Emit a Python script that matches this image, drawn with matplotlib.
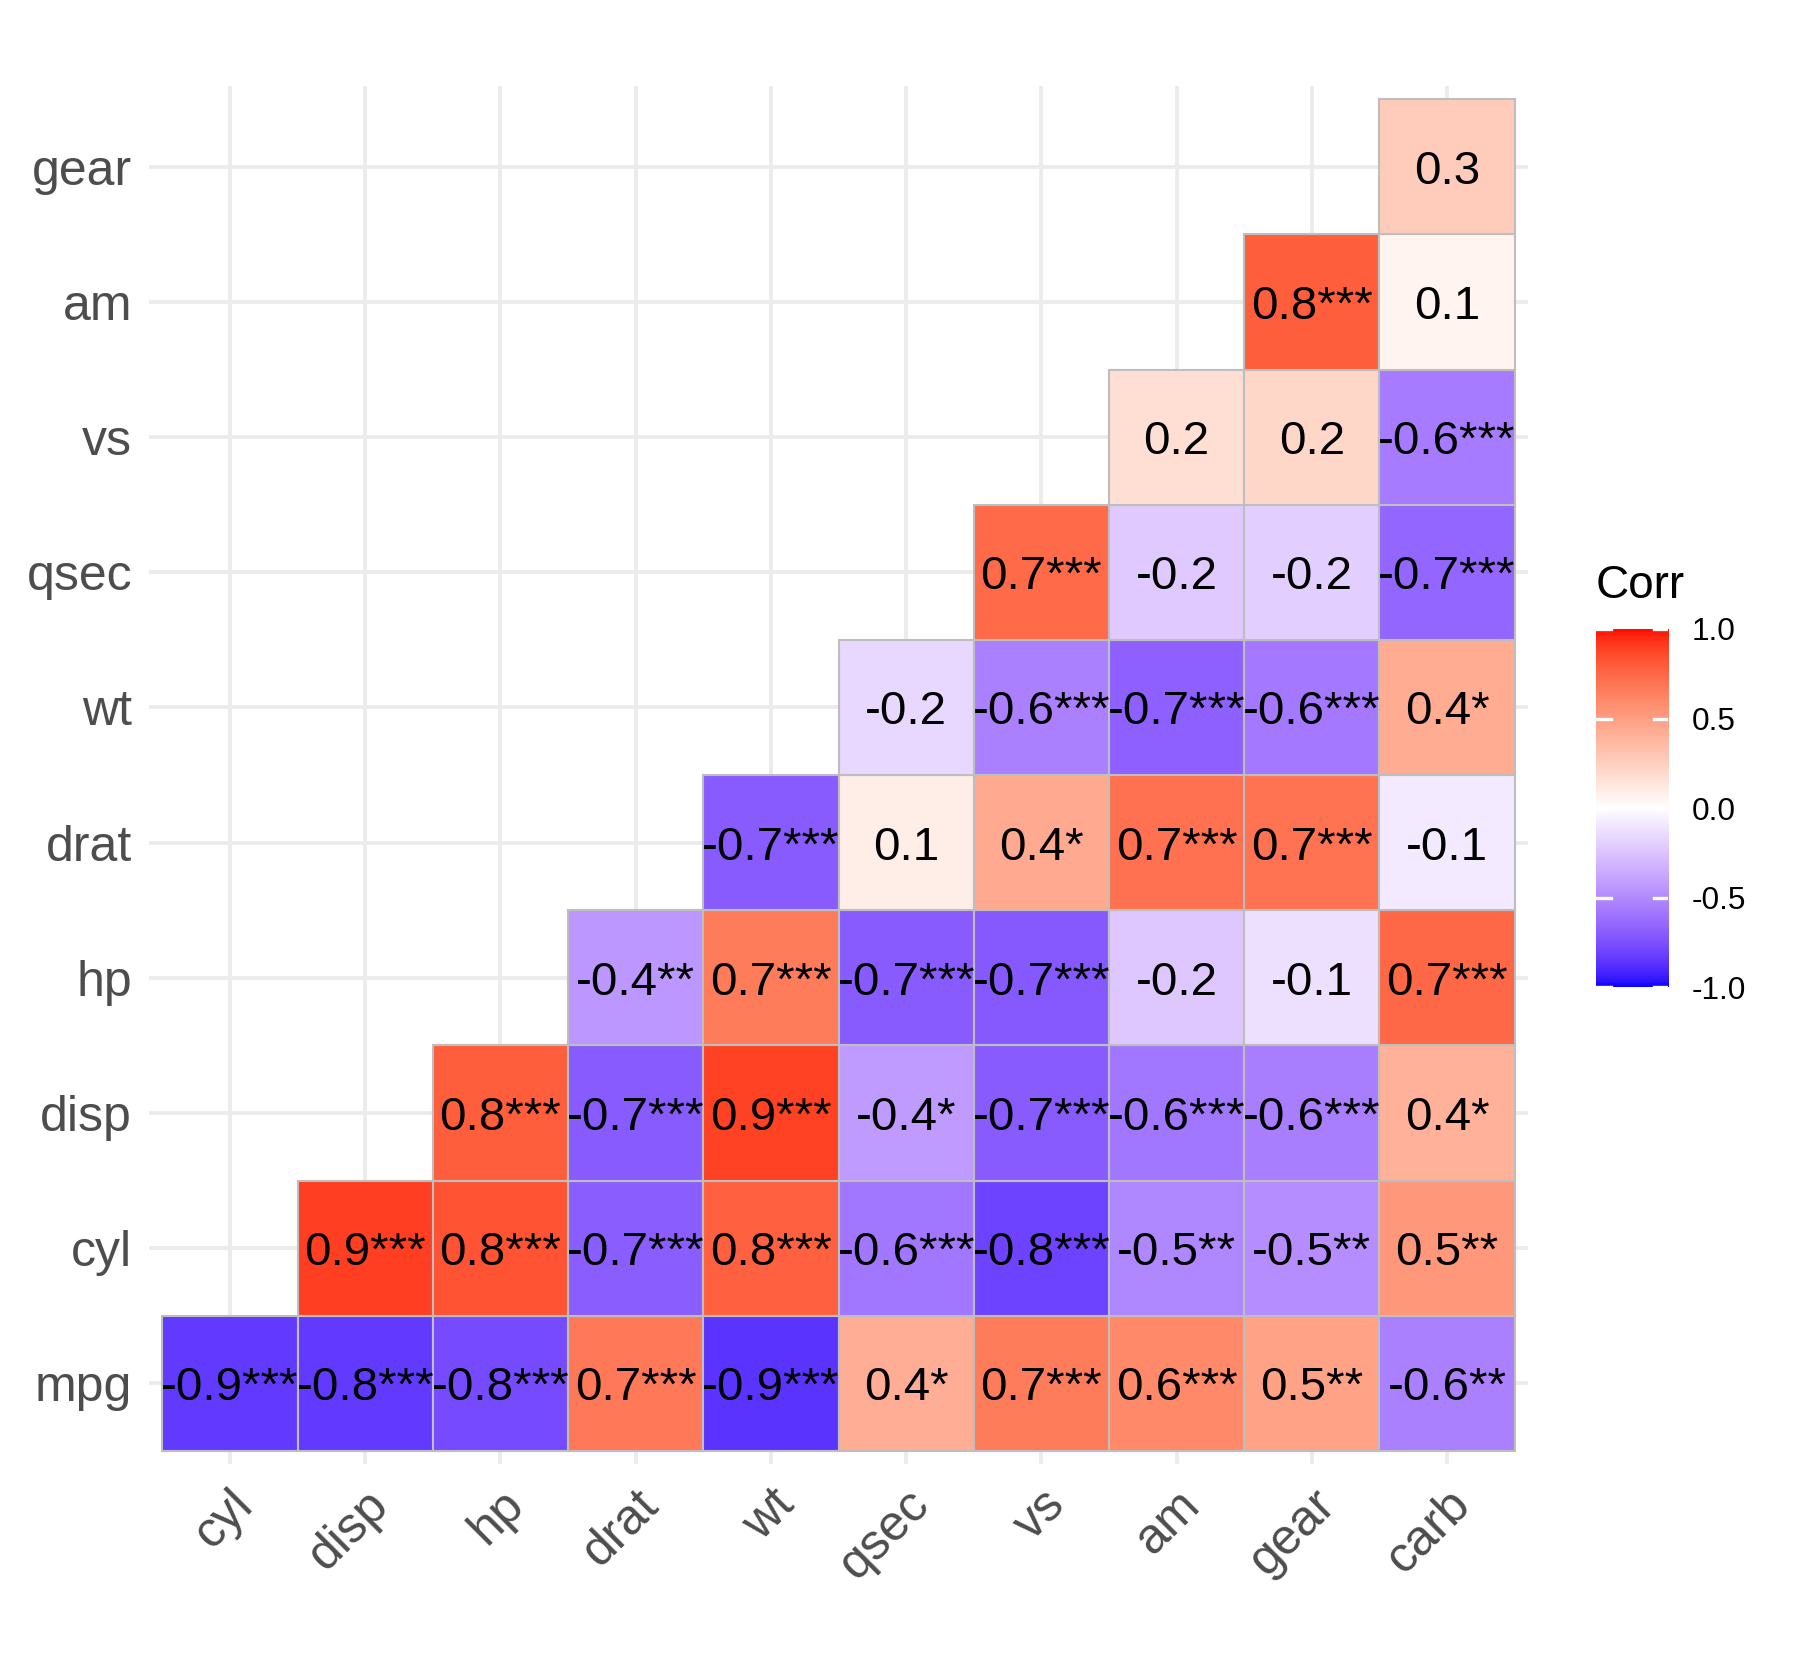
import numpy as np
import matplotlib
matplotlib.use("Agg")
import matplotlib.pyplot as plt
from matplotlib.patches import Rectangle

plt.rcParams['font.family'] = ['Liberation Sans', 'DejaVu Sans']

# mtcars correlations (upper triangle, row var vs later columns)
variables = ["mpg", "cyl", "disp", "hp", "drat", "wt", "qsec", "vs", "am", "gear", "carb"]
x_labels = variables[1:]
y_labels = variables[:-1]

corr_rows = [
    [-0.8522, -0.8476, -0.7762, 0.6812, -0.8677, 0.4187, 0.6640, 0.5998, 0.4803, -0.5509],
    [0.9020, 0.8324, -0.6999, 0.7825, -0.5912, -0.8109, -0.5226, -0.4927, 0.5270],
    [0.7909, -0.7102, 0.8880, -0.4337, -0.7104, -0.5912, -0.5556, 0.3950],
    [-0.4488, 0.6587, -0.7082, -0.7231, -0.2432, -0.1257, 0.7498],
    [-0.7124, 0.0912, 0.4403, 0.7127, 0.6996, -0.0908],
    [-0.1747, -0.5549, -0.6925, -0.5833, 0.4276],
    [0.7445, -0.2299, -0.2127, -0.6562],
    [0.1683, 0.2060, -0.5696],
    [0.7941, 0.0575],
    [0.2741],
]
star_rows = [
    ["***", "***", "***", "***", "***", "*", "***", "***", "**", "**"],
    ["***", "***", "***", "***", "***", "***", "**", "**", "**"],
    ["***", "***", "***", "*", "***", "***", "***", "*"],
    ["**", "***", "***", "***", "", "", "***"],
    ["***", "", "*", "***", "***", ""],
    ["", "***", "***", "***", "*"],
    ["***", "", "", "***"],
    ["", "", "***"],
    ["***", ""],
    [""],
]


# Lab interpolation like ggplot's gradient2
def srgb_to_lab(rgb):
    rgb = np.asarray(rgb, float)
    lin = np.where(rgb <= 0.04045, rgb / 12.92, ((rgb + 0.055) / 1.055) ** 2.4)
    M = np.array([[0.4124, 0.3576, 0.1805],
                  [0.2126, 0.7152, 0.0722],
                  [0.0193, 0.1192, 0.9505]])
    xyz = M @ lin / np.array([0.95047, 1.0, 1.08883])
    f = np.where(xyz > 0.008856, np.cbrt(xyz), 7.787 * xyz + 16 / 116)
    return np.array([116 * f[1] - 16, 500 * (f[0] - f[1]), 200 * (f[1] - f[2])])


def lab_to_srgb(lab):
    L, a, b = lab
    fy = (L + 16) / 116
    fx = fy + a / 500
    fz = fy - b / 200
    f = np.array([fx, fy, fz])
    xyz = np.where(f ** 3 > 0.008856, f ** 3, (f - 16 / 116) / 7.787)
    xyz = xyz * np.array([0.95047, 1.0, 1.08883])
    Minv = np.array([[3.2406, -1.5372, -0.4986],
                     [-0.9689, 1.8758, 0.0415],
                     [0.0557, -0.2040, 1.0570]])
    lin = np.clip(Minv @ xyz, 0, 1)
    rgb = np.where(lin <= 0.0031308, 12.92 * lin, 1.055 * lin ** (1 / 2.4) - 0.055)
    return np.clip(rgb, 0, 1)


LAB_LOW = srgb_to_lab([0, 0, 1])
LAB_MID = srgb_to_lab([1, 1, 1])
LAB_HIGH = srgb_to_lab([1, 0, 0])


def fill_color(v):
    v = round(v, 2)
    if v >= 0:
        lab = LAB_MID + (LAB_HIGH - LAB_MID) * v
    else:
        lab = LAB_MID + (LAB_LOW - LAB_MID) * (-v)
    return lab_to_srgb(lab)


fig = plt.figure(figsize=(6, 5.6), dpi=300)
ax = fig.add_axes([0.0827, 0.1283, 0.7663, 0.8207])

n = len(x_labels)
ax.set_xlim(-0.6, n - 1 + 0.6)
ax.set_ylim(-0.6, n - 1 + 0.6)
for k in range(n):
    ax.axvline(k, color="#EBEBEB", lw=0.9, zorder=0)
    ax.axhline(k, color="#EBEBEB", lw=0.9, zorder=0)

for i, (vals, stars) in enumerate(zip(corr_rows, star_rows)):
    offset = n - len(vals)
    for j, (v, s) in enumerate(zip(vals, stars)):
        xc = offset + j
        ax.add_patch(Rectangle((xc - 0.5, i - 0.5), 1, 1, facecolor=fill_color(v),
                               edgecolor="#BEBEBE", lw=0.5, zorder=2))
        ax.text(xc, i, f"{v:.1f}" + s, ha="center", va="center_baseline",
                fontsize=11.4, color="black", zorder=3)

ax.set_xticks(range(n))
ax.set_xticklabels(x_labels, rotation=45, ha="right", va="top",
                   rotation_mode="anchor", fontsize=12, color="#4D4D4D")
ax.set_yticks(range(n))
ax.set_yticklabels(y_labels, fontsize=12, color="#4D4D4D")
ax.tick_params(length=0, pad=4)
for sp in ax.spines.values():
    sp.set_visible(False)

# colour bar legend
cax = fig.add_axes([0.8867, 0.4123, 0.0402, 0.2133])
grad = np.linspace(-1, 1, 300)
img = np.array([fill_color(g) for g in grad])[:, None, :]
cax.imshow(img, aspect="auto", origin="lower", extent=[0, 1, -1, 1])
cax.set_xlim(0, 1)
cax.set_ylim(-1, 1)
bar_ticks = [-1.0, -0.5, 0.0, 0.5, 1.0]
for t in bar_ticks:
    cax.plot([0, 0.2], [t, t], color="white", lw=0.8)
    cax.plot([0.8, 1], [t, t], color="white", lw=0.8)
cax.set_xticks([])
cax.yaxis.tick_right()
cax.set_yticks(bar_ticks)
cax.set_yticklabels([f"{t:.1f}" for t in bar_ticks], fontsize=7.6)
cax.tick_params(length=0, pad=5.5)
for sp in cax.spines.values():
    sp.set_visible(False)
fig.text(0.8867, 1 - 586 / 1680, "Corr", fontsize=11, ha="left", va="center")

fig.savefig("out.png", dpi=300, facecolor="white")
